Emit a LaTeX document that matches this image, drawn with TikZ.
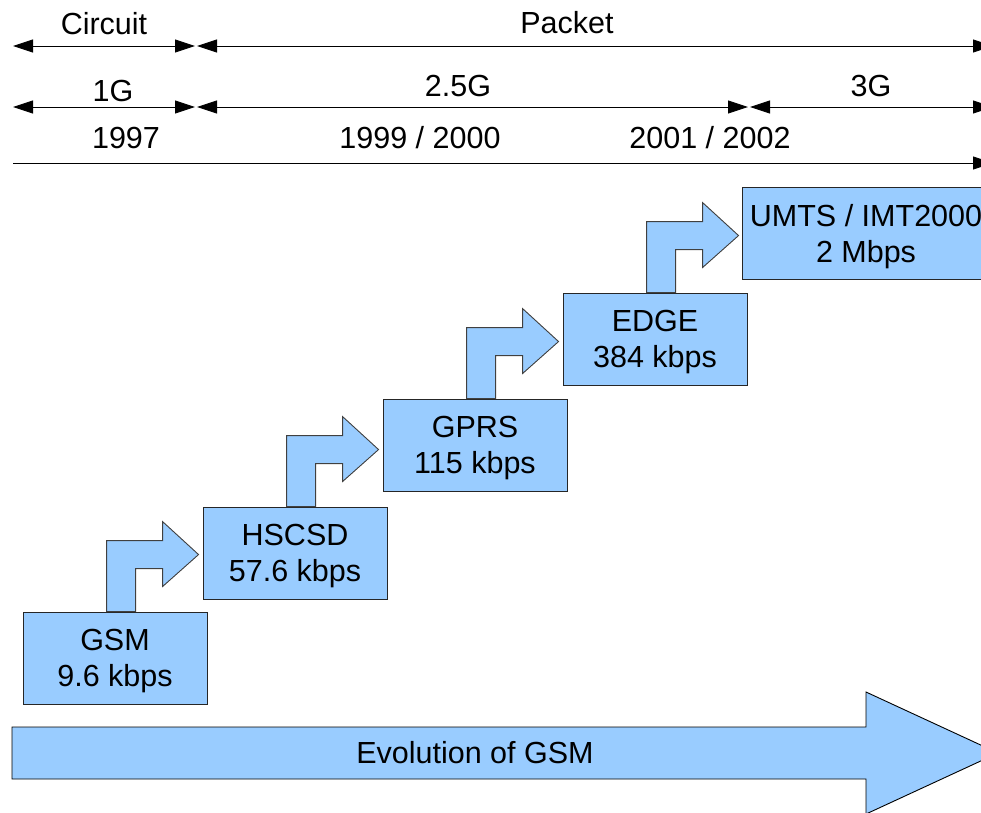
\documentclass[tikz,border=0pt]{standalone}
\usepackage{fontspec}
\setmainfont{Liberation Sans}
\usetikzlibrary{arrows.meta}
\definecolor{boxblue}{HTML}{99CCFF}
\begin{document}
\begin{tikzpicture}[x=1pt,y=-1pt,
  every node/.style={font=\fontsize{30.5}{36}\selectfont, inner sep=0pt},
  box/.style={draw=black!85, line width=0.9pt, fill=boxblue, minimum width=184pt, minimum height=92pt, align=center, text depth=0pt},
  bent/.style={draw=black!75, line width=0.9pt, fill=boxblue},
  span/.style={draw=black, line width=0.9pt, {Triangle[length=20pt,width=13pt]}-{Triangle[length=20pt,width=13pt]}},
  oneway/.style={draw=black, line width=0.9pt, -{Triangle[length=20pt,width=13pt]}},
  lbl/.style={anchor=center}]
\useasboundingbox (0,0) rectangle (981,812);
\clip (0,0) rectangle (981,812);

% top spans
\coordinate (r1a) at (13,46);
\coordinate (r1b) at (195,46);
\coordinate (r1c) at (197,46);
\coordinate (r1d) at (993,46);
\coordinate (r2a) at (13,107);
\coordinate (r2b) at (195,107);
\coordinate (r2c) at (197,107);
\coordinate (r2d) at (748,107);
\coordinate (r2e) at (750,107);
\coordinate (r2f) at (993,107);
\coordinate (r3a) at (13,163);
\coordinate (r3b) at (993,163);
\draw[span] (r1a) -- (r1b);
\draw[span] (r1c) -- (r1d);
\draw[span] (r2a) -- (r2b);
\draw[span] (r2c) -- (r2d);
\draw[span] (r2e) -- (r2f);
\draw[oneway] (r3a) -- (r3b);

\node[lbl] (circuit) at (104,24) {Circuit};
\node[lbl] (packet) at (567,23) {Packet};
\node[lbl] (g1) at (113,91) {1G};
\node[lbl] (g25) at (458,86) {2.5G};
\node[lbl] (g3) at (871,86) {3G};
\node[lbl] (y1) at (126,138) {1997};
\node[lbl] (y2) at (420,138) {1999 / 2000};
\node[lbl] (y3) at (710,138) {2001 / 2002};

% boxes
\node[box] (gsm) at (115,658) {GSM\\9.6 kbps};
\node[box] (hscsd) at (295,553) {HSCSD\\57.6 kbps};
\node[box] (gprs) at (475,445) {GPRS\\115 kbps};
\node[box] (edge) at (655,339) {EDGE\\384 kbps};
\node[box, minimum width=248pt] (umts) at (866,233) {UMTS / IMT2000\\2 Mbps};

% bent arrows
\foreach \b in {gsm,hscsd,gprs,edge}{
  \begin{scope}[shift={(\b.north west)}]
    \draw[bent] (84,0) -- (84,-71) -- (140,-71) -- (140,-90) -- (176,-57) -- (140,-25) -- (140,-43) -- (113,-43) -- (113,0) -- cycle;
  \end{scope}
}

% big arrow
\draw[bent, draw=black] (12,727) -- (866,727) -- (866,692) -- (998,753) -- (866,814) -- (866,779) -- (12,779) -- cycle;
\node (evo) at (475,753) {Evolution of GSM};
\end{tikzpicture}
\end{document}
